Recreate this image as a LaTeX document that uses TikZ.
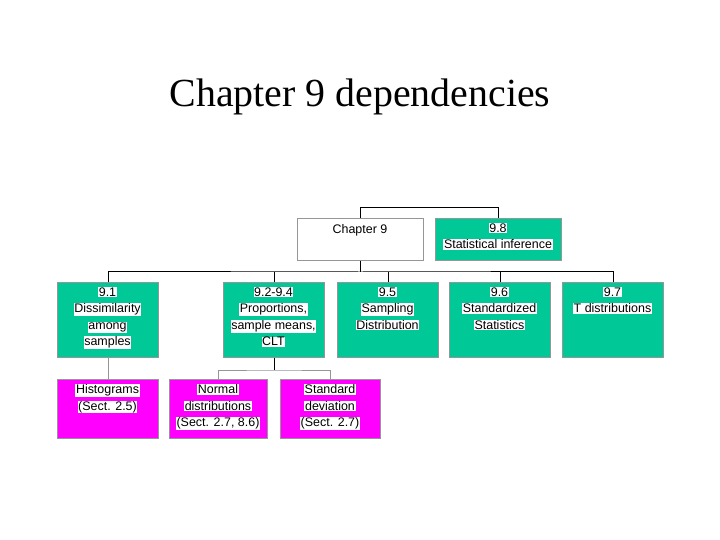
\documentclass[tikz,border=0pt]{standalone}
\usepackage{fontspec}
\setmainfont{Liberation Serif}
\newfontfamily\arial{Liberation Sans}
\definecolor{grn}{RGB}{0,200,150}
\definecolor{mag}{RGB}{255,0,255}
\definecolor{edge}{RGB}{150,150,150}
\newcommand{\hl}[1]{{\setlength{\fboxsep}{0.6pt}\colorbox{white}{#1}}}
\begin{document}
\begin{tikzpicture}[x=1bp,y=-1bp,
  bx/.style={draw=edge,line width=1pt,anchor=north west,inner sep=0pt,align=center,font=\arial\fontsize{12.5}{16.5}\selectfont},
  gbx/.style={bx,fill=grn},
  mbx/.style={bx,fill=mag},
  ln/.style={line width=1pt,black},
  gln/.style={line width=1pt,edge}]
\useasboundingbox (0,0) rectangle (720,540);
\node[font=\fontsize{40}{44}\selectfont] (title) at (360,97) {Chapter 9 dependencies};
% boxes
\node[bx,fill=white,minimum width=126bp,minimum height=42bp] (ch) at (297,218) {};
\node[anchor=north,font=\arial\fontsize{12.5}{16.5}\selectfont,inner sep=0pt] (cht) at (360,224) {Chapter 9};
\node[gbx,minimum width=126bp,minimum height=42bp] (s98) at (435,218) {};
\node[anchor=north,font=\arial\fontsize{12.5}{16.5}\selectfont,inner sep=0pt,align=center] at (498,223) {\hl{9.8}\\\hl{Statistical inference}};
\foreach \n/\x/\t in {s91/57/{\hl{9.1}\\\hl{Dissimilarity}\\\hl{among}\\\hl{samples}},
  s92/223/{\hl{9.2-9.4}\\\hl{Proportions,}\\\hl{sample means,}\\\hl{CLT}},
  s95/337/{\hl{9.5}\\\hl{Sampling}\\\hl{Distribution}},
  s96/449/{\hl{9.6}\\\hl{Standardized}\\\hl{Statistics}},
  s97/562/{\hl{9.7}\\\hl{T distributions}}}{
  \node[gbx,minimum width=101bp,minimum height=75bp] (\n) at (\x,282) {};
  \node[anchor=north,font=\arial\fontsize{12.5}{16.5}\selectfont,inner sep=0pt,align=center] at (\x+50.5,287) {\t};
}
\foreach \n/\x/\w/\t in {hist/57/101/{\hl{Histograms}\\\hl{(Sect. 2.5)}},
  norm/169/98/{\hl{Normal}\\\hl{distributions}\\\hl{(Sect. 2.7, 8.6)}},
  sdev/280/100/{\hl{Standard}\\\hl{deviation}\\\hl{(Sect. 2.7)}}}{
  \node[mbx,minimum width=\w bp,minimum height=59bp] (\n) at (\x,379) {};
  \node[anchor=north,font=\arial\fontsize{12.5}{16.5}\selectfont,inner sep=0pt,align=center] at (\x+\w/2,384) {\t};
}
% connectors
\draw[ln] (ch.north) -- ++(0,-11) -| (s98.north);
\draw[ln] (ch.south) -- ++(0,11) coordinate (j);
\draw[ln] (s91.north) |- (j) -| (s97.north);
\foreach \n in {s92,s95,s96} \draw[ln] (s92.north |- j) (\n.north) -- (\n.north |- j);
\draw[gln] (s91.south) -- (hist.north);
\draw[ln] (s92.south) -- ++(0,12) coordinate (k);
\draw[gln] (norm.north) |- (k) -| (sdev.north);
\end{tikzpicture}
\end{document}
